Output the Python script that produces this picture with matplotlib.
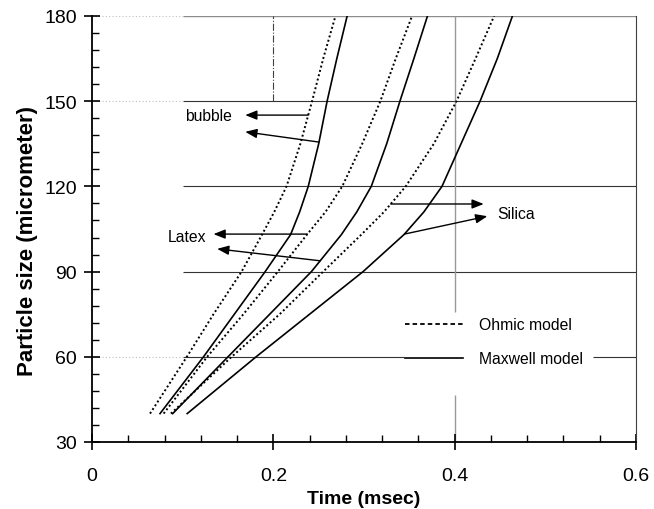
import numpy as np
import matplotlib.pyplot as plt
from matplotlib.lines import Line2D
from matplotlib.ticker import MultipleLocator

plt.rcParams["font.family"] = ["Liberation Sans", "DejaVu Sans"]

# particle size levels (micrometer) at which curve times were read
sizes = [40, 60, 75, 90, 103, 111, 120, 135, 150, 165, 180]

# time (msec) for each particle, Ohmic (dotted) and Maxwell (solid) model
bubble_ohmic = [0.064, 0.1046, 0.134, 0.165, 0.1875, 0.201, 0.2145, 0.2298, 0.2427, 0.255, 0.2685]
bubble_maxwell = [0.075, 0.123, 0.157, 0.191, 0.219, 0.229, 0.2385, 0.250, 0.2593, 0.270, 0.2814]
latex_ohmic = [0.079, 0.127, 0.167, 0.205, 0.237, 0.2575, 0.276, 0.298, 0.318, 0.335, 0.353]
latex_maxwell = [0.089, 0.150, 0.196, 0.242, 0.275, 0.292, 0.308, 0.325, 0.3396, 0.355, 0.370]
silica_ohmic = [0.087, 0.154, 0.207, 0.255, 0.297, 0.322, 0.346, 0.377, 0.402, 0.423, 0.4435]
silica_maxwell = [0.105, 0.181, 0.240, 0.299, 0.344, 0.366, 0.386, 0.407, 0.428, 0.447, 0.4637]

xticks = [0, 0.2, 0.4, 0.6]
xticklabels = ["0", "0.2", "0.4", "0.6"]
yticks = [30, 60, 90, 120, 150, 180]

fig = plt.figure(figsize=(6.54, 5.10), dpi=100)
ax = fig.add_axes([0.1407, 0.1314, 0.8318, 0.8353])

# grid-like reference lines (partly hidden in the original)
grid_kw = dict(color="0.2", lw=0.8, zorder=1)
faint_kw = dict(color="0.75", lw=0.8, linestyle=(0, (1, 2)), zorder=1)
ax.hlines([150, 120, 90], 0.1, 0.6, **grid_kw)
ax.hlines(60, 0.1, 0.3436, **grid_kw)
ax.hlines(60, 0.5525, 0.6, **grid_kw)
ax.hlines(180, 0.1, 0.6, color="0.55", lw=1.0, zorder=1)
ax.hlines([180, 150, 60], 0, 0.1, **faint_kw)
ax.vlines(0.2, 150, 180, color="0.25", lw=0.8, linestyle="-.", zorder=1)
ax.vlines(0.4, 75.8, 180, color="0.6", lw=1.0, zorder=1)
ax.vlines(0.4, 30, 46.5, color="0.6", lw=1.0, zorder=1)

dot = (0, (1, 1.3))
for ohm, maxw in [(bubble_ohmic, bubble_maxwell),
                  (latex_ohmic, latex_maxwell),
                  (silica_ohmic, silica_maxwell)]:
    ax.plot(ohm, sizes, color="black", lw=1.4, linestyle=dot, zorder=3)
    ax.plot(maxw, sizes, color="black", lw=1.2, zorder=3)

arrow = dict(arrowstyle="-|>,head_length=0.5,head_width=0.2", color="black",
             lw=1.0, mutation_scale=14, shrinkA=0, shrinkB=0)
txt_kw = dict(fontsize=11.3, va="center", ha="left")


def point_to(series, y, head):
    x = np.interp(y, sizes, series)
    ax.annotate("", xy=head, xytext=(x, y), arrowprops=arrow, zorder=4)


ax.text(0.1028, 144.8, "bubble", **txt_kw)
point_to(bubble_ohmic, 145.1, (0.169, 145.1))
point_to(bubble_maxwell, 135.6, (0.169, 139.2))

ax.text(0.084, 102.5, "Latex", **txt_kw)
point_to(latex_ohmic, 103.2, (0.134, 103.2))
point_to(latex_maxwell, 93.8, (0.138, 98.0))

ax.text(0.4475, 110.3, "Silica", **txt_kw)
point_to(silica_ohmic, 113.8, (0.432, 113.8))
point_to(silica_maxwell, 103.2, (0.436, 109.5))

handles = [Line2D([], [], color="black", lw=1.3, dashes=(2.5, 1.7)),
           Line2D([], [], color="black", lw=1.2)]
ax.legend(handles, ["Ohmic model", "Maxwell model"], loc="upper left",
          bbox_to_anchor=(0.5754, 0.293), frameon=False, fontsize=11.3,
          handlelength=3.7, handletextpad=1.0, labelspacing=1.2,
          borderpad=0, borderaxespad=0)

ax.set_xlim(0, 0.6)
ax.set_ylim(30, 180)
ax.set_xticks(xticks)
ax.set_xticklabels(xticklabels)
ax.set_yticks(yticks)
ax.xaxis.set_minor_locator(MultipleLocator(0.04))
ax.yaxis.set_minor_locator(MultipleLocator(6))
ax.tick_params(which="major", direction="inout", length=12, width=1.2,
               labelsize=14)
ax.tick_params(axis="x", which="major", pad=12)
ax.tick_params(axis="y", which="major", pad=5)
ax.tick_params(which="minor", direction="in", length=5, width=1.0)

ax.spines["top"].set_visible(False)
ax.spines["left"].set_linewidth(1.3)
ax.spines["bottom"].set_linewidth(1.3)
ax.spines["right"].set_color("0.25")

ax.set_xlabel("Time (msec)", fontsize=14, fontweight="bold")
ax.set_ylabel("Particle size (micrometer)", fontsize=16, fontweight="bold")
ax.xaxis.set_label_coords(0.5, -0.112)
ax.yaxis.set_label_coords(-0.1, 0.474)

fig.savefig("out.png", dpi=100)
